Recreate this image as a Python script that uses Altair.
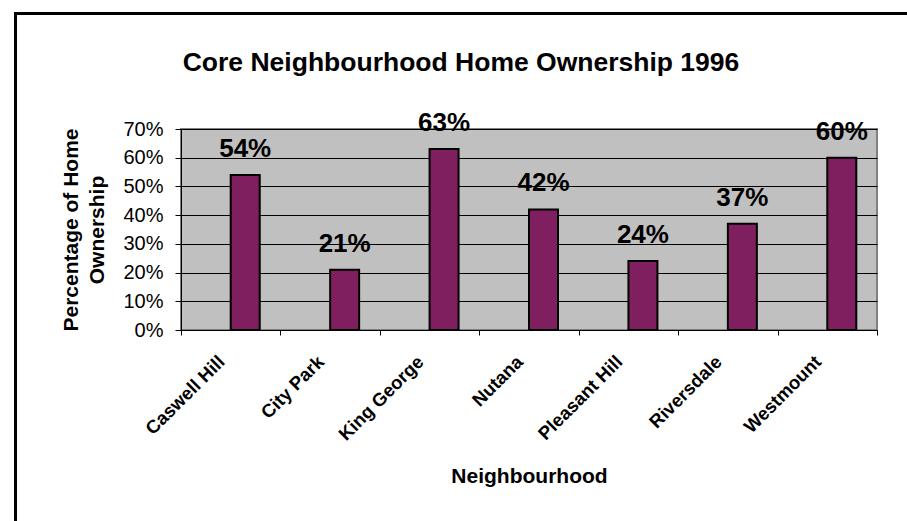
import altair as alt
import pandas as pd

neighbourhoods = ["Caswell Hill", "City Park", "King George", "Nutana",
                  "Pleasant Hill", "Riversdale", "Westmount"]
ownership = [0.54, 0.21, 0.63, 0.42, 0.24, 0.37, 0.60]
y_ticks = [0.0, 0.1, 0.2, 0.3, 0.4, 0.5, 0.6, 0.7]

FONT = "Liberation Sans"
W, H = 696, 201
step = W / len(neighbourhoods)
bar_frac = 29 / step
bar_w = bar_frac * step

df = pd.DataFrame({"Neighbourhood": neighbourhoods, "Ownership": ownership})

x_enc = alt.X(
    "Neighbourhood:N",
    sort=neighbourhoods,
    scale=alt.Scale(paddingInner=0, paddingOuter=0),
    axis=alt.Axis(
        title="Neighbourhood",
        titleFont=FONT, titleFontSize=21, titleFontWeight="bold", titleColor="black",
        titleX=W / 2, titleY=152, titleAlign="center", titleBaseline="alphabetic",
        labelAngle=315, labelAlign="right", labelBaseline="top",
        labelFont=FONT, labelFontSize=18.5, labelFontWeight="bold", labelColor="black",
        labelOffset=-16, labelPadding=17, labelOverlap=False, labelFlush=False,
        tickBand="extent", tickSize=5, tickColor="black", tickWidth=1,
        domainColor="black", domainWidth=1, grid=False,
    ),
)
y_enc = alt.Y(
    "Ownership:Q",
    scale=alt.Scale(domain=[0, 0.7], nice=False, zero=True),
    axis=alt.Axis(
        values=y_ticks, format=".0%",
        title=["Percentage of Home", "Ownership"],
        titleFont=FONT, titleFontSize=21, titleFontWeight="bold", titleColor="black",
        titleAngle=270, titleX=-104, titleY=H / 2, titleAlign="center",
        titleBaseline="alphabetic", titleLineHeight=26,
        labelFont=FONT, labelFontSize=20, labelColor="black", labelPadding=12,
        labelOverlap=False, labelFlush=False,
        tickSize=6, tickColor="black", tickWidth=1,
        domainColor="black", domainWidth=1,
        grid=True, gridColor="black", gridWidth=1,
    ),
)

bars = alt.Chart(df).mark_bar(
    color="#7F1F5F", stroke="black", strokeWidth=2,
    width=alt.RelativeBandSize(bar_frac), xOffset=bar_w / 2,
).encode(x=x_enc, y=y_enc)

labels = alt.Chart(df).mark_text(
    font=FONT, fontSize=26, fontWeight="bold", color="black",
    baseline="alphabetic", align="center", dy=-18, xOffset=bar_w / 2,
).encode(
    x=x_enc,
    y=y_enc,
    text=alt.Text("Ownership:Q", format=".0%"),
)

border = alt.Chart(pd.DataFrame({"k": [0]})).mark_rect(
    fillOpacity=0, stroke="black", strokeWidth=3,
).encode(
    x=alt.value(15.5 - 181), y=alt.value(13.5 - 129),
    x2=alt.value(1200), y2=alt.value(1200),
)

chart = alt.layer(border, bars, labels).properties(
    width=W, height=H,
    title=alt.TitleParams(
        "Core Neighbourhood Home Ownership 1996",
        font=FONT, fontSize=26.5, fontWeight="bold", color="black",
        anchor="middle", dx=-68, baseline="alphabetic", offset=-85,
    ),
    autosize=alt.AutoSizeParams(type="none"),
    padding={"left": 181, "top": 129, "right": 30, "bottom": 191},
    background="white",
).configure_view(
    fill="#C0C0C0", stroke="#808080", strokeWidth=2,
)

chart.save("out.html", embed_options={"renderer": "svg", "actions": False})
